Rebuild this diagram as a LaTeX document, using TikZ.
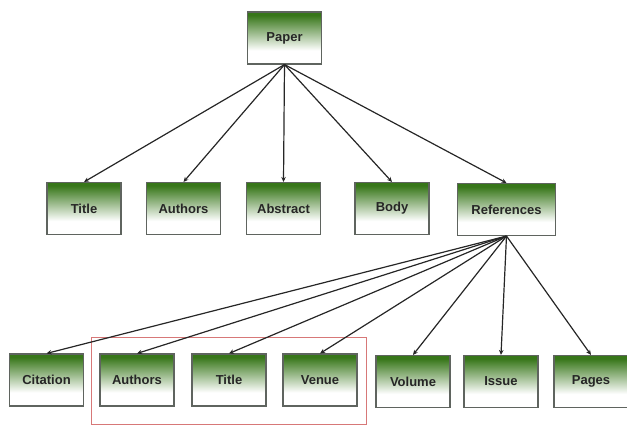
\documentclass[tikz,border=0pt]{standalone}
\usepackage{fontspec}
\setmainfont{Liberation Sans}
\usetikzlibrary{arrows.meta}
\definecolor{boxgreen}{RGB}{55,118,25}
\definecolor{boxedge}{RGB}{95,100,95}
\definecolor{grpred}{RGB}{215,120,120}
\pgfdeclareverticalshading{greenfade}{100bp}{color(0bp)=(white); color(25bp)=(white); color(38bp)=(white); color(72bp)=(boxgreen); color(100bp)=(boxgreen)}
\tikzset{
  leaf/.style={draw=boxedge, line width=1.1pt, shading=greenfade, minimum width=74pt, minimum height=52pt, inner sep=0pt, font=\fontsize{13}{15}\selectfont\bfseries, text=black!85},
  conn/.style={draw=black!85, line width=1.2pt, -{Stealth[length=5pt,width=4.5pt]}},
}
\begin{document}
\begin{tikzpicture}[x=1pt,y=-1pt]
\useasboundingbox (0,0) rectangle (627,426);
\node[leaf] (paper) at (284.5,38) {Paper};
\node[leaf] (title1) at (84,208.5) {Title};
\node[leaf] (auth1) at (183.5,208.5) {Authors};
\node[leaf] (abs) at (283.5,208.5) {Abstract};
\node[leaf] (body) at (392,208.5) {Body};
\node[leaf, minimum width=98pt] (refs) at (506.5,209.5) {References};
\node[leaf] (cit) at (46.5,380) {Citation};
\node[leaf] (auth2) at (137,380) {Authors};
\node[leaf] (title2) at (229,380) {Title};
\node[leaf] (venue) at (320,380) {Venue};
\node[leaf] (vol) at (413,381.5) {Volume};
\node[leaf] (iss) at (501,381.5) {Issue};
\node[leaf] (pages) at (591,381.5) {Pages};
\node[draw=grpred, line width=0.9pt, minimum width=275pt, minimum height=87pt, inner sep=0pt] (grp) at (228.5,380.5) {};
\foreach \t in {title1,auth1,abs,body,refs} \draw[conn] (paper.south) -- (\t.north);
\foreach \t in {cit,auth2,title2,venue,vol,iss,pages} \draw[conn] (refs.south) -- (\t.north);
\end{tikzpicture}
\end{document}
